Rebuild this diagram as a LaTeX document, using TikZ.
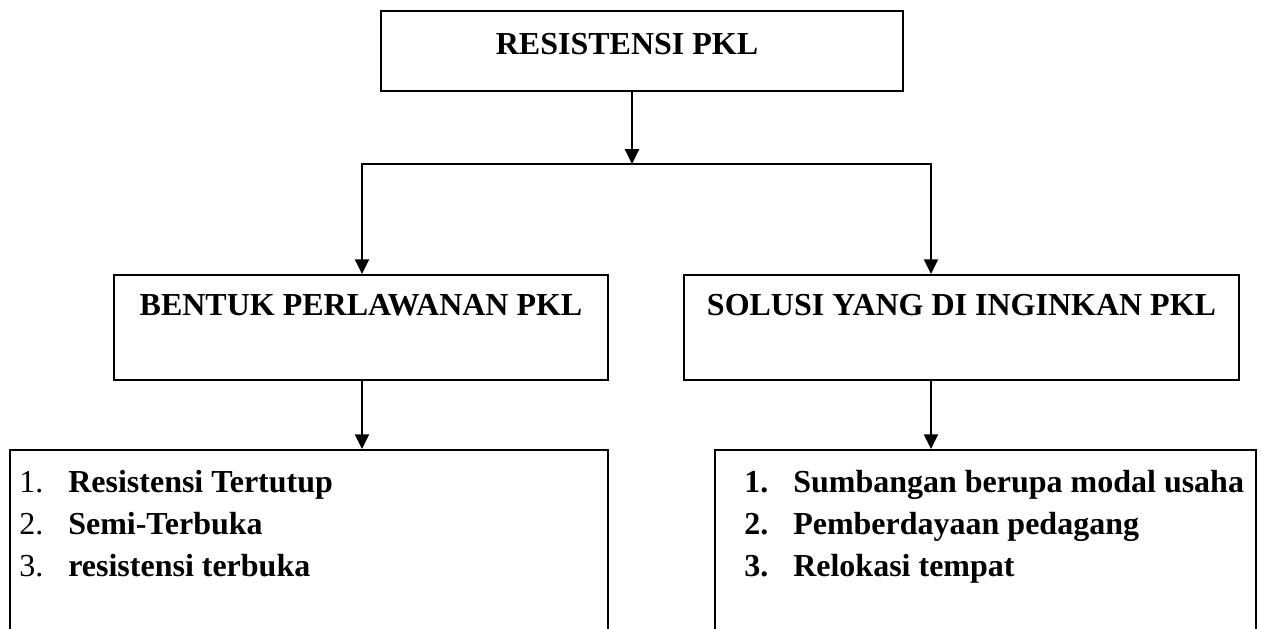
\documentclass[tikz,border=0pt]{standalone}
\usepackage{fontspec}
\setmainfont{Liberation Serif}
\usetikzlibrary{positioning,arrows.meta}
\newcommand{\pklhead}{\fontsize{22.76pt}{27pt}\selectfont\bfseries}
\newcommand{\pkllist}{\fontsize{22.76pt}{29.9pt}\selectfont}
\newcommand{\pklnum}[1]{\makebox[1.225cm][l]{#1}}

\begin{document}
\begin{tikzpicture}[
  box/.style={draw, line width=1.4pt, inner sep=0pt},
  head/.style={box, font=\pklhead, text height=1cm, text depth=1.625cm},
  arr/.style={->, line width=1.3pt, >={Triangle[width=10pt,length=10.5pt]}},
  lst/.style={align=left, inner sep=0pt, font=\pkllist}
]
  \useasboundingbox (0,0) rectangle (31.55,-15.7);

  \node[head, minimum width=13.05cm, text height=1.075cm, text depth=0.925cm] (resist) at (16.05,-1.275) {RESISTENSI PKL\hspace*{0.75cm}};
  \node[head, minimum width=12.35cm] (bentuk) at (9.025,-8.1875) {BENTUK PERLAWANAN PKL};
  \node[head, minimum width=13.875cm] (solusi) at (24.0375,-8.1875) {SOLUSI YANG DI INGINKAN PKL};

  \node[box, minimum width=14.95cm, minimum height=6.25cm] (bentukList) at (7.725,-14.375) {};
  \node[box, minimum width=13.525cm, minimum height=6.25cm] (solusiList) at (24.6375,-14.375) {};

  \node[lst, below right=0.525cm and 0.25cm of bentukList.north west] (bentukItems) {%
    \pklnum{1.}\textbf{Resistensi Tertutup}\\
    \pklnum{2.}\textbf{Semi-Terbuka}\\
    \pklnum{3.}\textbf{resistensi terbuka}};
  \node[lst, below right=0.525cm and 0.75cm of solusiList.north west] (solusiItems) {%
    \pklnum{\textbf{1.}}\textbf{Sumbangan berupa modal usaha}\\
    \pklnum{\textbf{2.}}\textbf{Pemberdayaan pedagang}\\
    \pklnum{\textbf{3.}}\textbf{Relokasi tempat}};

  \coordinate (split) at (15.8,-4.1);
  \coordinate (barL) at (9.05,-4.1);
  \coordinate (barR) at (23.275,-4.1);

  \draw[arr] (resist.south -| split) -- (split);
  \draw[arr, <->] (bentuk.north -| barL) -- (barL) -- (barR) -- (solusi.north -| barR);
  \draw[arr] (bentuk.south -| barL) -- (bentukList.north -| barL);
  \draw[arr] (solusi.south -| barR) -- (solusiList.north -| barR);
\end{tikzpicture}
\end{document}
